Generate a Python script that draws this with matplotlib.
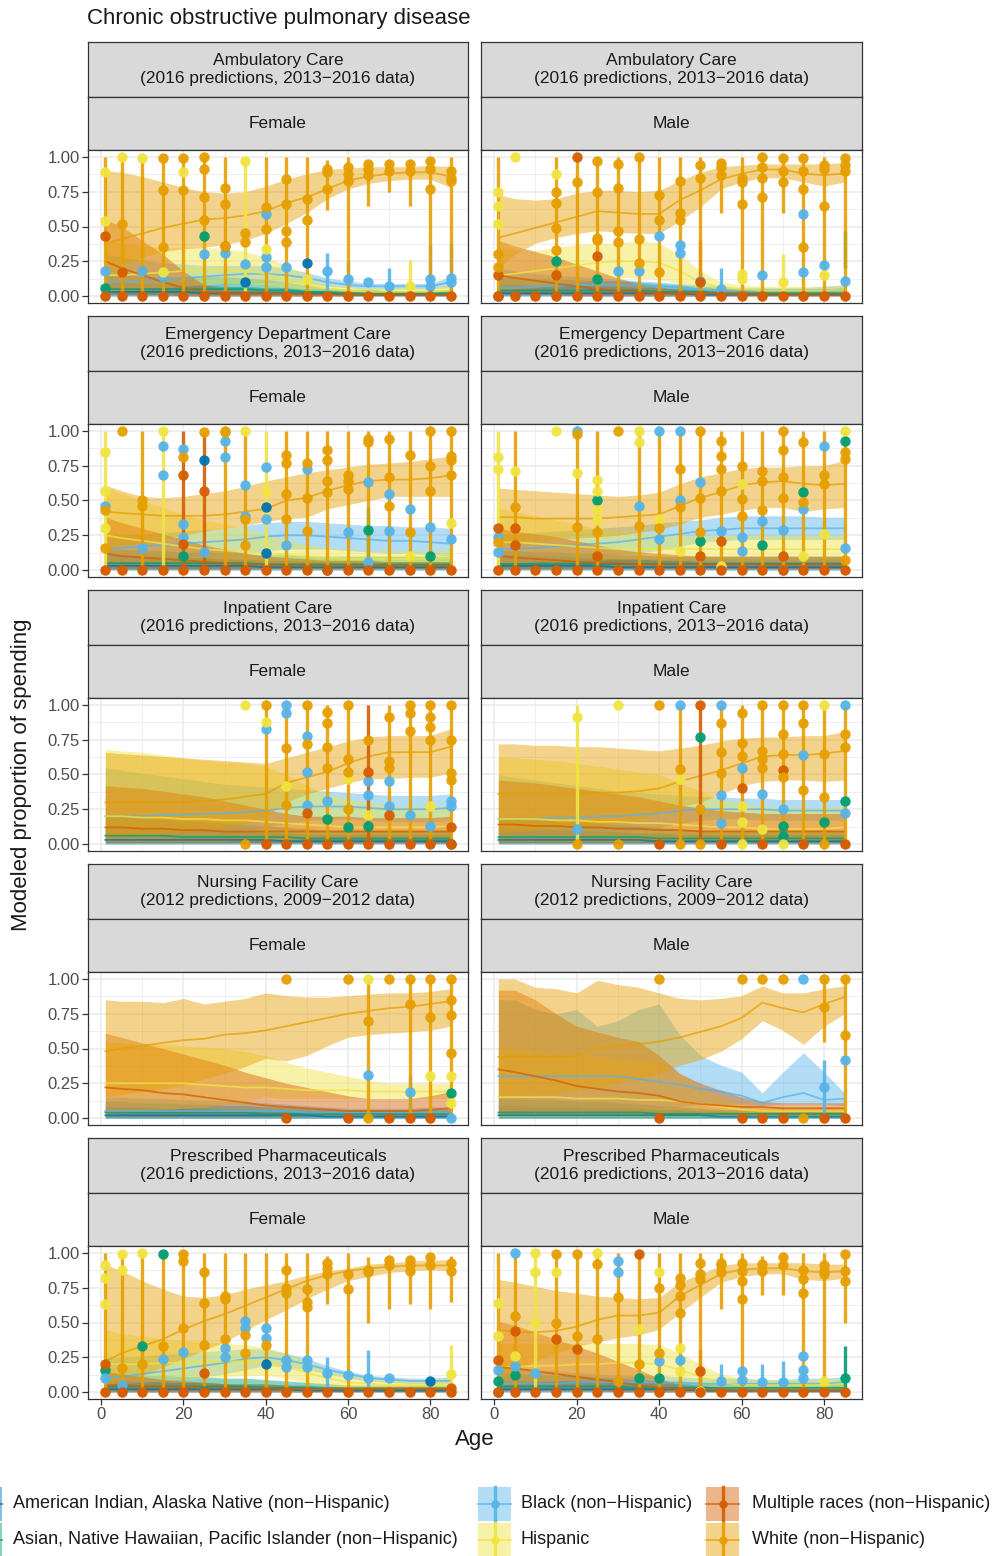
import matplotlib.pyplot as plt
from matplotlib.patches import Rectangle
from matplotlib.lines import Line2D

plt.rcParams['font.family'] = ['Liberation Sans', 'DejaVu Sans']

W, H = 1001, 1556
AGES = [1, 5, 10, 15, 20, 25, 30, 35, 40, 45, 50, 55, 60, 65, 70, 75, 80, 85]

GROUPS = ["American Indian, Alaska Native (non\u2212Hispanic)",
          "Asian, Native Hawaiian, Pacific Islander (non\u2212Hispanic)",
          "Black (non\u2212Hispanic)", "Hispanic",
          "Multiple races (non\u2212Hispanic)", "White (non\u2212Hispanic)"]
COLORS = ["#0072B2", "#009E73", "#56B4E9", "#F0E442", "#D55E00", "#E69F00"]
AI, AS, BL, HS, MR, WT = range(6)

CARE = ["Ambulatory Care\n(2016 predictions, 2013\u22122016 data)",
        "Emergency Department Care\n(2016 predictions, 2013\u22122016 data)",
        "Inpatient Care\n(2016 predictions, 2013\u22122016 data)",
        "Nursing Facility Care\n(2012 predictions, 2009\u22122012 data)",
        "Prescribed Pharmaceuticals\n(2016 predictions, 2013\u22122016 data)"]
SEX = ["Female", "Male"]

# modelled proportions: group -> (mean, lower, upper) by age
amb_f = {
    WT: ([.38, .41, .45, .49, .52, .55, .56, .58, .61, .67, .71, .77, .83, .86, .88, .89, .89, .86],
         [.15, .22, .28, .32, .34, .35, .37, .40, .45, .52, .60, .70, .77, .81, .83, .84, .84, .78],
         [.90, .89, .86, .82, .78, .75, .74, .75, .79, .84, .88, .91, .92, .93, .93, .93, .94, .93]),
    MR: ([.25, .20, .15, .10, .06, .03, .02, .02, .02, .02, .01, .01, .01, .01, .01, .01, .01, .01],
         [.02, .01, .01, .01, 0, 0, 0, 0, 0, 0, 0, 0, 0, 0, 0, 0, 0, 0],
         [.55, .50, .40, .30, .18, .08, .05, .04, .04, .03, .03, .03, .03, .03, .03, .03, .03, .03]),
    HS: ([.15, .15, .16, .17, .18, .19, .19, .18, .16, .12, .08, .05, .04, .03, .03, .03, .03, .04],
         [.03, .04, .05, .06, .07, .08, .09, .09, .08, .06, .04, .03, .02, .02, .02, .02, .02, .02],
         [.40, .38, .36, .35, .35, .35, .34, .32, .28, .22, .15, .09, .07, .06, .06, .06, .06, .08]),
    BL: ([.10, .10, .11, .12, .13, .14, .15, .16, .16, .15, .13, .10, .08, .07, .07, .07, .07, .10],
         [.02, .03, .04, .05, .06, .07, .08, .09, .10, .10, .09, .07, .06, .05, .05, .05, .05, .06],
         [.30, .28, .26, .24, .23, .22, .22, .22, .22, .20, .17, .13, .11, .09, .09, .09, .09, .14]),
    AS: ([.05, .05, .05, .05, .05, .05, .05, .05, .04, .04, .03, .03, .02, .02, .02, .02, .02, .02],
         [.01, .01, .01, .01, .01, .01, .01, .01, .01, .01, .01, .01, .01, .01, .01, .01, .01, .01],
         [.15, .15, .14, .14, .14, .14, .14, .13, .12, .10, .08, .06, .05, .05, .04, .04, .04, .05]),
    AI: ([.03, .03, .03, .03, .03, .02, .02, .02, .02, .02, .02, .02, .01, .01, .01, .01, .01, .01],
         [0, 0, 0, 0, 0, 0, 0, 0, 0, 0, 0, 0, 0, 0, 0, 0, 0, 0],
         [.10, .10, .09, .09, .08, .08, .07, .07, .06, .06, .05, .05, .04, .04, .04, .04, .04, .04]),
}
amb_m = {
    WT: ([.42, .45, .49, .53, .57, .61, .60, .59, .59, .69, .76, .84, .88, .91, .91, .88, .87, .88],
         [.20, .30, .38, .42, .45, .47, .46, .45, .45, .54, .64, .77, .82, .85, .85, .82, .79, .82],
         [.73, .70, .69, .70, .74, .76, .76, .75, .76, .83, .89, .93, .94, .95, .95, .95, .95, .96]),
    MR: ([.15, .13, .11, .09, .07, .05, .04, .03, .02, .02, .02, .02, .01, .01, .01, .01, .01, .01],
         [.01, .01, .01, .01, 0, 0, 0, 0, 0, 0, 0, 0, 0, 0, 0, 0, 0, 0],
         [.40, .36, .32, .28, .23, .18, .13, .09, .06, .05, .04, .04, .04, .03, .03, .03, .03, .03]),
    HS: ([.15, .16, .18, .20, .22, .24, .25, .25, .24, .18, .10, .06, .05, .04, .04, .04, .04, .05],
         [.04, .05, .06, .08, .10, .12, .13, .13, .12, .09, .05, .03, .02, .02, .02, .02, .02, .02],
         [.35, .33, .33, .35, .37, .38, .38, .40, .38, .30, .18, .10, .08, .07, .07, .07, .07, .08]),
    BL: ([.06, .06, .07, .07, .08, .08, .08, .08, .07, .06, .05, .04, .04, .04, .04, .04, .04, .05],
         [.01, .01, .02, .02, .03, .03, .03, .03, .03, .03, .03, .02, .02, .02, .02, .02, .02, .02],
         [.20, .18, .16, .15, .14, .13, .12, .11, .10, .09, .08, .07, .06, .06, .06, .06, .07, .08]),
    AS: ([.04, .04, .04, .04, .04, .04, .04, .04, .03, .03, .03, .02, .02, .02, .02, .02, .02, .02],
         [.01, .01, .01, .01, .01, .01, .01, .01, .01, .01, .01, .01, .01, .01, .01, .01, .01, .01],
         [.14, .13, .13, .12, .12, .11, .11, .10, .09, .08, .07, .06, .05, .05, .05, .05, .05, .06]),
    AI: ([.02, .02, .02, .02, .02, .02, .02, .02, .02, .02, .01, .01, .01, .01, .01, .01, .01, .01],
         [0, 0, 0, 0, 0, 0, 0, 0, 0, 0, 0, 0, 0, 0, 0, 0, 0, 0],
         [.09, .09, .08, .08, .08, .07, .07, .06, .06, .05, .05, .04, .04, .04, .04, .04, .04, .04]),
}
ed_f = {
    WT: ([.42, .41, .40, .39, .39, .39, .40, .42, .44, .50, .52, .57, .61, .64, .65, .65, .66, .68],
         [.15, .18, .20, .22, .25, .28, .30, .32, .35, .37, .38, .44, .47, .50, .53, .53, .53, .53],
         [.61, .57, .53, .52, .53, .55, .57, .60, .64, .67, .70, .72, .74, .76, .77, .78, .80, .82]),
    MR: ([.12, .10, .09, .08, .07, .06, .05, .04, .04, .03, .03, .03, .03, .03, .03, .03, .03, .03],
         [.01, .01, .01, .01, .01, .01, .01, .01, .01, .01, .01, .01, .01, .01, .01, .01, .01, .01],
         [.38, .34, .30, .26, .22, .18, .15, .12, .10, .09, .08, .07, .07, .07, .06, .06, .06, .06]),
    HS: ([.25, .23, .21, .19, .17, .15, .14, .13, .12, .11, .10, .09, .08, .08, .08, .08, .08, .09],
         [.05, .05, .05, .05, .05, .05, .05, .05, .05, .05, .04, .04, .04, .04, .04, .04, .04, .04],
         [.60, .55, .50, .45, .40, .36, .33, .30, .26, .22, .18, .16, .15, .14, .14, .14, .14, .15]),
    BL: ([.15, .16, .17, .18, .19, .20, .21, .22, .24, .25, .25, .24, .23, .22, .21, .21, .20, .19],
         [.05, .06, .07, .08, .09, .10, .11, .12, .14, .15, .15, .15, .14, .13, .12, .12, .11, .10],
         [.25, .25, .26, .27, .28, .29, .30, .32, .34, .35, .35, .34, .33, .32, .32, .31, .31, .30]),
    AS: ([.05, .05, .05, .05, .05, .05, .05, .05, .04, .04, .04, .04, .04, .04, .04, .04, .04, .04],
         [.01, .01, .01, .01, .01, .01, .01, .01, .01, .01, .01, .01, .01, .01, .01, .01, .01, .01],
         [.15, .15, .14, .14, .13, .13, .12, .12, .11, .11, .10, .10, .10, .10, .10, .10, .10, .10]),
    AI: ([.03, .03, .03, .03, .03, .03, .03, .03, .02, .02, .02, .02, .02, .02, .02, .02, .02, .02],
         [0, 0, 0, 0, 0, 0, 0, 0, 0, 0, 0, 0, 0, 0, 0, 0, 0, 0],
         [.12, .11, .10, .10, .09, .09, .08, .08, .07, .07, .06, .06, .06, .06, .06, .06, .06, .06]),
}
ed_m = {
    WT: ([.38, .38, .37, .37, .37, .37, .38, .39, .40, .46, .52, .56, .61, .63, .64, .62, .61, .62],
         [.18, .20, .21, .22, .23, .24, .25, .27, .29, .33, .38, .40, .43, .45, .45, .42, .44, .45],
         [.59, .58, .57, .56, .55, .54, .53, .54, .56, .62, .67, .70, .73, .74, .74, .75, .75, .79]),
    MR: ([.10, .09, .08, .07, .06, .05, .05, .04, .04, .04, .04, .04, .04, .04, .04, .04, .04, .04],
         [.01, .01, .01, .01, .01, .01, .01, .01, .01, .01, .01, .01, .01, .01, .01, .01, .01, .01],
         [.30, .28, .26, .24, .21, .18, .15, .13, .12, .11, .10, .10, .10, .10, .10, .10, .10, .10]),
    HS: ([.20, .20, .19, .18, .17, .16, .15, .15, .15, .15, .15, .15, .15, .15, .15, .15, .15, .15],
         [.05, .05, .06, .06, .07, .07, .08, .08, .08, .08, .08, .08, .08, .08, .08, .08, .08, .08],
         [.45, .42, .39, .36, .33, .30, .28, .27, .26, .25, .25, .25, .25, .25, .25, .25, .25, .25]),
    BL: ([.15, .15, .16, .17, .18, .19, .20, .22, .24, .26, .28, .29, .30, .30, .30, .30, .30, .30],
         [.05, .06, .07, .08, .09, .10, .11, .12, .14, .17, .20, .21, .22, .22, .22, .22, .22, .22],
         [.25, .26, .27, .28, .29, .30, .31, .32, .34, .35, .36, .38, .39, .39, .39, .39, .38, .38]),
    AS: ([.04, .04, .04, .04, .04, .04, .04, .04, .04, .04, .04, .04, .04, .04, .04, .04, .04, .04],
         [.01, .01, .01, .01, .01, .01, .01, .01, .01, .01, .01, .01, .01, .01, .01, .01, .01, .01],
         [.14, .14, .13, .13, .12, .12, .11, .11, .10, .10, .10, .10, .10, .10, .10, .10, .10, .10]),
    AI: ([.03, .03, .03, .03, .03, .03, .02, .02, .02, .02, .02, .02, .02, .02, .02, .02, .02, .02],
         [0, 0, 0, 0, 0, 0, 0, 0, 0, 0, 0, 0, 0, 0, 0, 0, 0, 0],
         [.11, .11, .10, .10, .09, .09, .08, .08, .07, .07, .06, .06, .06, .06, .06, .06, .06, .06]),
}
inp_f = {
    WT: ([.30, .30, .30, .30, .30, .31, .32, .34, .36, .44, .48, .52, .58, .63, .66, .66, .66, .70],
         [.05, .06, .07, .08, .09, .10, .12, .15, .20, .30, .36, .40, .44, .47, .47, .48, .48, .51],
         [.66, .65, .64, .63, .62, .61, .60, .59, .58, .62, .66, .70, .74, .77, .78, .78, .78, .83]),
    MR: ([.12, .12, .11, .11, .10, .10, .09, .09, .09, .09, .09, .09, .09, .09, .09, .09, .09, .09],
         [.01, .01, .01, .01, .01, .01, .01, .01, .01, .01, .01, .01, .01, .01, .01, .01, .01, .01],
         [.42, .41, .40, .38, .36, .34, .31, .28, .25, .22, .20, .20, .20, .19, .19, .19, .19, .20]),
    HS: ([.20, .20, .19, .19, .18, .18, .17, .17, .16, .15, .14, .13, .12, .12, .12, .12, .12, .13],
         [.02, .02, .02, .02, .02, .02, .02, .03, .03, .03, .04, .04, .04, .04, .04, .04, .04, .04],
         [.68, .67, .66, .64, .62, .60, .59, .58, .56, .50, .42, .36, .32, .30, .28, .27, .27, .28]),
    BL: ([.20, .20, .20, .21, .21, .22, .22, .23, .24, .26, .27, .27, .27, .26, .25, .25, .25, .26],
         [.02, .03, .04, .05, .06, .07, .08, .10, .12, .15, .17, .18, .18, .17, .16, .16, .16, .17],
         [.55, .53, .51, .49, .47, .45, .43, .42, .41, .40, .39, .38, .37, .36, .35, .35, .35, .36]),
    AS: ([.06, .06, .06, .06, .05, .05, .05, .05, .05, .05, .04, .04, .04, .04, .04, .04, .04, .04],
         [.01, .01, .01, .01, .01, .01, .01, .01, .01, .01, .01, .01, .01, .01, .01, .01, .01, .01],
         [.20, .20, .19, .18, .17, .16, .15, .14, .13, .12, .11, .10, .10, .10, .10, .10, .10, .10]),
    AI: ([.03, .03, .03, .03, .03, .03, .03, .03, .03, .02, .02, .02, .02, .02, .02, .02, .02, .02],
         [0, 0, 0, 0, 0, 0, 0, 0, 0, 0, 0, 0, 0, 0, 0, 0, 0, 0],
         [.12, .12, .11, .11, .10, .10, .09, .09, .08, .08, .07, .07, .07, .07, .07, .07, .07, .07]),
}
inp_m = {
    WT: ([.36, .36, .36, .36, .36, .37, .37, .38, .40, .45, .49, .53, .58, .63, .64, .64, .65, .67],
         [.08, .09, .10, .11, .12, .13, .15, .18, .22, .27, .30, .36, .42, .45, .46, .46, .45, .46],
         [.72, .72, .71, .71, .70, .70, .69, .68, .67, .69, .71, .74, .76, .77, .77, .78, .78, .81]),
    MR: ([.14, .14, .13, .13, .12, .12, .11, .11, .10, .10, .09, .09, .09, .09, .09, .09, .09, .09],
         [.01, .01, .01, .01, .01, .01, .01, .01, .01, .01, .01, .01, .01, .01, .01, .01, .01, .01],
         [.46, .45, .44, .42, .40, .38, .36, .34, .31, .28, .26, .24, .23, .22, .22, .22, .22, .22]),
    HS: ([.18, .18, .18, .17, .17, .16, .16, .15, .15, .14, .13, .12, .12, .11, .11, .11, .11, .12],
         [.02, .02, .02, .02, .02, .02, .02, .02, .03, .03, .03, .03, .03, .03, .03, .03, .03, .03],
         [.63, .62, .61, .60, .58, .56, .54, .52, .50, .44, .38, .32, .29, .27, .26, .26, .26, .27]),
    BL: ([.18, .18, .18, .19, .19, .20, .20, .21, .22, .24, .25, .25, .25, .25, .24, .24, .24, .24],
         [.02, .03, .04, .05, .06, .07, .08, .10, .12, .15, .17, .18, .18, .17, .17, .17, .17, .17],
         [.50, .48, .46, .44, .42, .40, .38, .37, .36, .35, .34, .34, .33, .33, .32, .32, .32, .32]),
    AS: ([.05, .05, .05, .05, .05, .05, .05, .05, .04, .04, .04, .04, .04, .04, .04, .04, .04, .04],
         [.01, .01, .01, .01, .01, .01, .01, .01, .01, .01, .01, .01, .01, .01, .01, .01, .01, .01],
         [.18, .18, .17, .17, .16, .15, .14, .13, .12, .11, .10, .10, .10, .10, .10, .10, .10, .10]),
    AI: ([.03, .03, .03, .03, .03, .03, .03, .03, .02, .02, .02, .02, .02, .02, .02, .02, .02, .02],
         [0, 0, 0, 0, 0, 0, 0, 0, 0, 0, 0, 0, 0, 0, 0, 0, 0, 0],
         [.12, .11, .11, .10, .10, .09, .09, .08, .08, .07, .07, .07, .07, .07, .07, .07, .07, .07]),
}
nf_f = {
    WT: ([.48, .50, .52, .54, .56, .57, .60, .61, .63, .66, .69, .72, .75, .77, .79, .80, .82, .84],
         [.15, .17, .19, .21, .24, .28, .32, .37, .43, .41, .45, .52, .58, .60, .61, .62, .63, .66],
         [.85, .84, .84, .83, .86, .82, .84, .86, .90, .88, .87, .87, .88, .89, .90, .90, .91, .93]),
    MR: ([.22, .21, .20, .18, .17, .15, .13, .11, .09, .08, .07, .06, .05, .05, .05, .05, .06, .07],
         [.01, .01, .01, .01, .01, .01, .01, .01, .01, .01, .01, .01, .01, .01, .01, .01, .01, .01],
         [.61, .58, .54, .50, .46, .42, .38, .33, .29, .25, .22, .19, .16, .14, .14, .14, .16, .19]),
    HS: ([.25, .25, .25, .25, .25, .24, .23, .22, .22, .21, .20, .20, .20, .19, .19, .19, .19, .19],
         [.03, .04, .05, .06, .07, .08, .10, .12, .15, .14, .14, .14, .14, .14, .14, .14, .14, .14],
         [.55, .54, .53, .53, .52, .51, .50, .48, .45, .40, .36, .33, .30, .27, .25, .25, .25, .25]),
    BL: ([.05, .05, .05, .05, .05, .05, .05, .05, .05, .05, .04, .04, .04, .04, .04, .04, .04, .04],
         [0, 0, 0, 0, 0, 0, 0, 0, 0, 0, 0, 0, 0, 0, 0, 0, 0, 0],
         [.15, .15, .14, .14, .13, .13, .12, .12, .11, .10, .09, .08, .07, .07, .07, .07, .08, .08]),
    AS: ([.04, .04, .04, .04, .04, .04, .04, .04, .03, .03, .03, .03, .03, .03, .03, .03, .03, .03],
         [0, 0, 0, 0, 0, 0, 0, 0, 0, 0, 0, 0, 0, 0, 0, 0, 0, 0],
         [.12, .12, .11, .11, .10, .10, .09, .09, .08, .08, .07, .07, .06, .06, .06, .06, .06, .06]),
    AI: ([.02, .02, .02, .02, .02, .02, .02, .02, .02, .02, .02, .01, .01, .01, .01, .01, .01, .01],
         [0, 0, 0, 0, 0, 0, 0, 0, 0, 0, 0, 0, 0, 0, 0, 0, 0, 0],
         [.08, .08, .08, .07, .07, .07, .06, .06, .06, .05, .05, .05, .04, .04, .04, .04, .04, .04]),
}
nf_m = {
    WT: ([.44, .44, .44, .44, .45, .50, .52, .53, .55, .58, .62, .66, .72, .83, .79, .76, .82, .87],
         [.15, .16, .17, .18, .20, .22, .25, .28, .32, .38, .42, .48, .57, .70, .63, .53, .66, .75],
         [1.0, 1.0, .94, .93, .90, .99, .96, .94, .90, .86, .85, .86, .88, .95, .90, .90, .93, .95]),
    MR: ([.35, .33, .30, .27, .23, .21, .19, .18, .16, .12, .10, .09, .08, .08, .07, .07, .07, .07],
         [.02, .02, .02, .02, .02, .02, .02, .02, .02, .02, .02, .02, .02, .02, .02, .02, .02, .02],
         [.92, .92, .85, .75, .66, .62, .58, .55, .45, .32, .25, .20, .15, .12, .11, .11, .11, .11]),
    HS: ([.15, .15, .15, .15, .14, .14, .14, .13, .13, .12, .10, .08, .06, .05, .05, .05, .05, .05],
         [.01, .01, .01, .01, .01, .01, .01, .01, .01, .01, .01, .01, .01, .01, .01, .01, .01, .01],
         [.50, .50, .48, .46, .45, .44, .43, .42, .40, .32, .22, .15, .10, .08, .08, .08, .08, .08]),
    BL: ([.30, .30, .30, .30, .30, .30, .30, .28, .26, .24, .21, .19, .16, .11, .15, .18, .13, .14],
         [.02, .02, .03, .03, .04, .04, .05, .06, .07, .08, .10, .10, .10, .09, .10, .10, .10, .09],
         [.85, .85, .78, .75, .78, .66, .70, .78, .82, .60, .45, .38, .33, .18, .33, .47, .33, .18]),
    AS: ([.04, .04, .04, .04, .04, .04, .04, .04, .03, .03, .03, .03, .03, .03, .03, .03, .03, .03],
         [0, 0, 0, 0, 0, 0, 0, 0, 0, 0, 0, 0, 0, 0, 0, 0, 0, 0],
         [.14, .14, .13, .13, .12, .12, .11, .10, .09, .08, .07, .06, .06, .06, .06, .06, .06, .06]),
    AI: ([.02, .02, .02, .02, .02, .02, .02, .02, .02, .02, .02, .01, .01, .01, .01, .01, .01, .01],
         [0, 0, 0, 0, 0, 0, 0, 0, 0, 0, 0, 0, 0, 0, 0, 0, 0, 0],
         [.09, .09, .08, .08, .08, .07, .07, .07, .06, .06, .05, .05, .04, .04, .04, .04, .04, .04]),
}
pp_f = {
    WT: ([.22, .28, .33, .38, .45, .51, .56, .62, .68, .74, .80, .84, .87, .89, .90, .91, .91, .91],
         [.05, .08, .12, .18, .24, .30, .36, .44, .52, .59, .67, .74, .80, .83, .86, .87, .88, .87],
         [.92, .87, .80, .74, .69, .68, .70, .74, .77, .80, .84, .87, .89, .92, .93, .94, .95, .95]),
    MR: ([.05, .05, .04, .04, .04, .03, .03, .03, .03, .02, .02, .02, .02, .02, .02, .02, .02, .02],
         [0, 0, 0, 0, 0, 0, 0, 0, 0, 0, 0, 0, 0, 0, 0, 0, 0, 0],
         [.15, .13, .11, .09, .08, .07, .06, .05, .05, .05, .04, .04, .04, .04, .04, .04, .04, .04]),
    HS: ([.20, .20, .20, .21, .21, .22, .22, .22, .21, .18, .14, .10, .07, .06, .05, .05, .05, .06],
         [.05, .06, .07, .08, .09, .10, .11, .12, .12, .10, .07, .05, .03, .03, .03, .03, .03, .03],
         [.45, .42, .40, .38, .37, .36, .35, .34, .32, .28, .22, .16, .12, .10, .09, .09, .09, .10]),
    BL: ([.10, .11, .13, .15, .17, .19, .21, .24, .25, .23, .20, .16, .13, .10, .09, .08, .08, .08],
         [.03, .04, .05, .07, .09, .11, .13, .16, .19, .18, .16, .13, .10, .08, .07, .06, .06, .06],
         [.25, .25, .26, .27, .28, .29, .30, .31, .31, .28, .24, .19, .15, .12, .11, .10, .10, .11]),
    AS: ([.04, .04, .04, .04, .04, .04, .04, .04, .03, .03, .03, .02, .02, .02, .02, .02, .02, .02],
         [.01, .01, .01, .01, .01, .01, .01, .01, .01, .01, .01, .01, .01, .01, .01, .01, .01, .01],
         [.13, .13, .12, .12, .11, .11, .10, .10, .09, .08, .07, .06, .05, .05, .05, .05, .05, .05]),
    AI: ([.02, .02, .02, .02, .02, .02, .02, .02, .02, .02, .01, .01, .01, .01, .01, .01, .01, .01],
         [0, 0, 0, 0, 0, 0, 0, 0, 0, 0, 0, 0, 0, 0, 0, 0, 0, 0],
         [.08, .08, .08, .07, .07, .07, .06, .06, .06, .05, .05, .04, .04, .04, .04, .04, .04, .04]),
}
pp_m = {
    WT: ([.45, .43, .43, .44, .47, .52, .55, .55, .57, .69, .77, .85, .88, .89, .89, .87, .86, .87],
         [.10, .15, .22, .28, .33, .36, .39, .41, .45, .57, .68, .79, .83, .85, .85, .81, .80, .82],
         [.81, .79, .76, .73, .71, .69, .68, .67, .68, .79, .85, .91, .93, .93, .93, .93, .92, .92]),
    MR: ([.18, .17, .15, .13, .11, .09, .07, .05, .03, .02, .02, .01, .01, .01, .01, .01, .01, .01],
         [.01, .01, .01, .01, .01, .01, 0, 0, 0, 0, 0, 0, 0, 0, 0, 0, 0, 0],
         [.51, .48, .43, .38, .33, .28, .22, .16, .10, .05, .04, .03, .03, .03, .03, .03, .03, .03]),
    HS: ([.18, .18, .19, .19, .20, .20, .21, .21, .20, .16, .11, .07, .05, .05, .05, .05, .05, .06],
         [.05, .06, .07, .08, .09, .10, .10, .10, .09, .07, .05, .03, .02, .02, .02, .02, .02, .02],
         [.35, .35, .35, .35, .35, .35, .35, .35, .34, .28, .20, .13, .10, .09, .09, .09, .09, .10]),
    BL: ([.06, .06, .06, .06, .07, .07, .07, .07, .07, .07, .06, .06, .06, .06, .06, .06, .06, .07],
         [.02, .02, .02, .02, .02, .02, .02, .02, .02, .02, .02, .02, .03, .03, .03, .03, .03, .03],
         [.20, .18, .16, .15, .14, .13, .12, .12, .12, .11, .10, .10, .10, .09, .09, .10, .10, .11]),
    AS: ([.04, .04, .04, .04, .04, .04, .04, .03, .03, .03, .03, .03, .03, .03, .03, .03, .03, .03],
         [.01, .01, .01, .01, .01, .01, .01, .01, .01, .01, .01, .01, .01, .01, .01, .01, .01, .01],
         [.14, .13, .13, .12, .12, .11, .10, .09, .08, .07, .07, .06, .06, .06, .06, .06, .06, .07]),
    AI: ([.02, .02, .02, .02, .02, .02, .02, .02, .02, .02, .01, .01, .01, .01, .01, .01, .01, .01],
         [0, 0, 0, 0, 0, 0, 0, 0, 0, 0, 0, 0, 0, 0, 0, 0, 0, 0],
         [.09, .09, .08, .08, .08, .07, .07, .07, .06, .06, .05, .05, .04, .04, .04, .04, .04, .04]),
}

# observed proportions: (age, group, values, bar low, bar high)
amb_f_obs = [
    (1, WT, [], 0, 1), (1, HS, [.89, .54], None, None), (1, MR, [.43], None, None),
    (1, BL, [.18], None, None), (1, AS, [.06], None, None),
    (5, WT, [.52], 0, 1), (5, HS, [1.0], None, None), (5, MR, [.17], None, None),
    (10, WT, [], 0, 1), (10, HS, [.99], None, None), (10, BL, [.18], None, None),
    (15, WT, [.99, .76, .35], 0, 1), (15, HS, [.17], None, None), (15, BL, [.14], None, None),
    (20, WT, [.99, .76], 0, 1), (20, HS, [.89], None, None),
    (25, WT, [1.0, .91, .71, .55], 0, 1), (25, AS, [.43], None, None), (25, BL, [.30], None, None),
    (30, WT, [.78, .66, .36], 0, 1), (30, MR, [.36], None, None), (30, BL, [.31], None, None),
    (35, HS, [.97], 0, 1), (35, WT, [.45, .39], None, None), (35, BL, [.23], None, None),
    (35, AI, [.10], None, None),
    (40, WT, [.64, .48], 0, 1), (40, BL, [.59, .28, .21], None, None), (40, HS, [.34], None, None),
    (45, WT, [.84, .66, .47, .39], 0, 1), (45, BL, [.21], None, None),
    (50, WT, [.70, .55], 0, 1), (50, AI, [.24], None, None), (50, HS, [.12], None, None),
    (55, WT, [.91, .89, .77], .62, .98), (55, BL, [.18], .03, .31),
    (60, WT, [.93, .88, .83], 0, 1), (60, BL, [.12], .02, .25),
    (65, WT, [.95, .91, .87], .65, .98), (65, BL, [.10], None, None),
    (70, WT, [.95, .90], .75, .98), (70, BL, [.07], 0, .2),
    (75, WT, [.95, .90], .65, .98), (75, HS, [.07], 0, .26),
    (80, WT, [.97, .91, .77], 0, 1), (80, BL, [.12, .07], 0, .37),
    (85, WT, [.90, .85, .83], 0, 1), (85, BL, [.13, .10], 0, .38),
]
amb_m_obs = [
    (1, WT, [.30, .21], 0, 1), (1, HS, [.75, .65, .52], None, None), (1, MR, [.15], None, None),
    (1, AI, [0], None, None),
    (5, HS, [1.0], None, None),
    (15, WT, [.75, .67, .49, .33], 0, 1), (15, HS, [.88], None, None), (15, AS, [.25], None, None),
    (15, MR, [.15], None, None),
    (20, MR, [1.0], None, None), (20, WT, [.82], 0, 1),
    (25, WT, [.97, .75, .42, .40], 0, 1), (25, MR, [.29], None, None), (25, AS, [.12], None, None),
    (30, WT, [.95, .78, .47, .39], 0, 1), (30, BL, [.18], None, None),
    (35, WT, [1.0, .41, .24], 0, 1), (35, BL, [.18], None, None),
    (40, WT, [.73, .55, .17], 0, 1), (40, BL, [.43], None, None),
    (45, WT, [.83, .60, .55], 0, 1), (45, BL, [.37, .31], None, None),
    (50, WT, [.94, .85], 0, 1), (50, MR, [.10], 0, .4), (50, BL, [.11], None, None),
    (55, WT, [.96, .93, .87], .6, .98), (55, BL, [.05], 0, .2),
    (60, WT, [.85, .82, .66], 0, 1), (60, HS, [.16, .12], None, None),
    (65, WT, [1.0, .93, .85, .71], 0, 1), (65, BL, [.15], None, None),
    (70, WT, [.99, .90, .82], .6, 1), (70, HS, [.10], 0, .3),
    (75, WT, [.99, .90, .77, .35], 0, 1), (75, BL, [.59, .17], None, None),
    (80, WT, [.94, .91, .65], 0, 1), (80, BL, [.22], None, None), (80, HS, [.15], None, None),
    (85, WT, [.99, .94, .90], 0, 1), (85, AS, [], .2, .47), (85, BL, [.11], None, None),
]
ed_f_obs = [
    (1, HS, [.85, .57, .30], 0, 1), (1, BL, [.46], None, None), (1, WT, [.43, .16], None, None),
    (5, WT, [1.0], None, None),
    (10, WT, [.50, .46], 0, 1), (10, BL, [.16], None, None),
    (15, HS, [1.0], 0, 1), (15, BL, [.89, .68], None, None),
    (20, MR, [.68, .19], 0, 1), (20, BL, [.87, .33, .24], None, None), (20, WT, [.81], None, None),
    (20, AS, [.10], None, None),
    (25, MR, [.57], 0, 1), (25, WT, [.99], None, None), (25, AI, [.79], None, None),
    (25, BL, [.13], None, None),
    (30, WT, [1.0, .99], 0, 1), (30, BL, [.93, .81], None, None),
    (35, WT, [.37, .18], 0, 1), (35, HS, [1.0], None, None), (35, BL, [.61, .39], None, None),
    (40, HS, [.57], 0, 1), (40, BL, [.74, .37], None, None), (40, AI, [.45, .12], None, None),
    (45, WT, [.83, .77, .55, .37], 0, 1), (45, BL, [.18], None, None),
    (50, WT, [.77, .52, .28], 0, 1), (50, BL, [.73], None, None),
    (55, WT, [.86, .79, .64, .56], 0, 1), (55, AS, [0], None, None),
    (60, WT, [.68, .64, .58], 0, 1), (60, BL, [.27], None, None),
    (65, WT, [.94, .92], 0, 1), (65, BL, [.63, .06], None, None), (65, AS, [.29], .05, .45),
    (70, WT, [.94, .67, .46], 0, 1), (70, BL, [.55, .28], None, None),
    (75, WT, [.83, .27], 0, 1), (75, BL, [.44], None, None), (75, HS, [.10], None, None),
    (80, WT, [1.0, .75, .57], 0, 1), (80, BL, [.31], None, None), (80, AS, [.10], None, None),
    (85, WT, [1.0, .82, .79, .68], 0, 1), (85, HS, [.34], None, None), (85, BL, [.22], None, None),
]
ed_m_obs = [
    (1, HS, [.81, .73], 0, 1), (1, MR, [.30], None, None), (1, BL, [.24, .13], None, None),
    (1, WT, [.20], None, None),
    (5, WT, [.45], 0, 1), (5, HS, [.71], None, None), (5, MR, [.30, .18], None, None),
    (15, HS, [1.0], None, None),
    (20, WT, [.98, .31], 0, 1), (20, BL, [1.0], None, None), (20, HS, [.70], None, None),
    (25, WT, [.27], 0, 1), (25, HS, [.65, .57, .43, .36], None, None), (25, AS, [.50], None, None),
    (25, MR, [.10], None, None),
    (30, WT, [1.0], None, None),
    (35, WT, [.32], 0, 1), (35, HS, [1.0, .92], None, None), (35, BL, [.46], None, None),
    (40, WT, [.30], 0, 1), (40, BL, [1.0, .22], None, None), (40, HS, [.37], None, None),
    (45, WT, [.73, .45], 0, 1), (45, BL, [1.0, .50], None, None), (45, HS, [.14], None, None),
    (50, WT, [1.0, .52, .27], 0, 1), (50, BL, [.63], None, None), (50, AS, [.21], None, None),
    (50, MR, [.10], None, None),
    (55, WT, [.93, .82, .73, .57], 0, 1), (55, BL, [.28], None, None), (55, MR, [.21], None, None),
    (55, HS, [.03], None, None),
    (60, WT, [.75, .51, .39], 0, 1), (60, HS, [.62], None, None), (60, BL, [.24, .14], None, None),
    (65, WT, [.71, .64, .43], 0, 1), (65, BL, [.35], None, None), (65, AS, [.18], None, None),
    (70, WT, [1.0, .86, .67, .52], 0, 1), (70, BL, [.29, 0], None, None), (70, MR, [.10], None, None),
    (75, WT, [.92, .49], 0, 1), (75, AS, [.56], None, None), (75, BL, [.44], None, None),
    (75, HS, [.10], None, None),
    (80, WT, [.68, .62], 0, 1), (80, BL, [.89], None, None), (80, HS, [.26], None, None),
    (85, WT, [.85, .80, .07], 0, 1), (85, HS, [1.0], None, None), (85, AS, [.93], None, None),
    (85, BL, [.16], None, None),
]
inp_f_obs = [
    (35, HS, [1.0], None, None), (35, WT, [0], None, None),
    (40, WT, [1.0], 0, 1), (40, HS, [.88], None, None), (40, BL, [.83], None, None),
    (45, WT, [.69, .28], 0, 1), (45, BL, [1.0, .94], None, None), (45, HS, [.42], None, None),
    (50, WT, [1.0, .72], 0, 1), (50, BL, [.78, .52, .28], None, None), (50, MR, [.22], None, None),
    (55, WT, [.95, .87, .70, .55], 0, 1), (55, BL, [.31], None, None), (55, AS, [.18], None, None),
    (60, WT, [1.0, .61, .52, .25], 0, 1), (60, HS, [.47], None, None), (60, AS, [.12], None, None),
    (65, MR, [.52], 0, 1), (65, WT, [.75], None, None), (65, BL, [.45, .35], None, None),
    (65, HS, [.21], None, None), (65, AS, [.13], None, None),
    (70, WT, [.91, .60, .55], 0, 1), (70, BL, [.45, .27], None, None), (70, MR, [.21], None, None),
    (75, WT, [1.0, .94, .81], 0, 1), (75, BL, [.21], None, None),
    (80, WT, [1.0, .91, .84, .75], 0, 1), (80, HS, [.27], None, None), (80, BL, [.13], None, None),
    (85, WT, [1.0, .75, .51, .46], 0, 1), (85, BL, [.31, .27], None, None), (85, MR, [.12], None, None),
    (85, AS, [0], None, None),
]
inp_m_obs = [
    (20, HS, [.91], 0, 1), (20, BL, [.11], 0, .25), (20, WT, [0], None, None),
    (30, HS, [1.0], None, None), (30, WT, [0], None, None),
    (40, WT, [1.0], None, None),
    (45, WT, [.54, 0], 0, 1), (45, BL, [1.0], None, None), (45, HS, [.47], None, None),
    (50, MR, [1.0], 0, 1), (50, AS, [.77], None, None), (50, WT, [.25, 0], None, None),
    (55, WT, [.87, .66, .51], 0, 1), (55, BL, [1.0, .35, .15], None, None),
    (60, WT, [.94, .73, .63], 0, 1), (60, BL, [.55], None, None), (60, MR, [.40], None, None),
    (60, HS, [.27, .16, 0], None, None),
    (65, WT, [1.0, .67, .61, .55], 0, 1), (65, BL, [.36], None, None), (65, HS, [.11], None, None),
    (70, WT, [1.0, .79, .65, .48], 0, 1), (70, MR, [.53], None, None), (70, BL, [.25], None, None),
    (70, AS, [.13, .06], None, None), (70, HS, [0], None, None),
    (75, WT, [1.0, .87, .39], 0, 1), (75, BL, [.64], None, None),
    (80, WT, [.65, .34, 0], 0, 1), (80, HS, [1.0], None, None), (80, AS, [.16], None, None),
    (85, WT, [.79, .70], 0, 1), (85, BL, [1.0, .22], None, None), (85, AS, [.31], None, None),
]
nf_f_obs = [
    (45, WT, [1.0], None, None), (60, WT, [1.0], None, None),
    (65, HS, [1.0], None, None), (65, WT, [.70, 0], 0, 1), (65, BL, [.31], None, None),
    (70, WT, [1.0], None, None),
    (75, WT, [1.0, .82], 0, 1), (75, BL, [.19], 0, .3),
    (80, WT, [1.0, .73], 0, 1), (80, HS, [.30], None, None),
    (85, WT, [1.0, .85, .74, .47], 0, 1), (85, HS, [.30, .11], None, None),
    (85, AS, [.18], None, None), (85, BL, [0], None, None),
]
nf_m_obs = [
    (40, WT, [1.0], None, None), (60, WT, [1.0], None, None), (65, WT, [1.0], None, None),
    (70, WT, [1.0], None, None), (75, BL, [1.0], None, None), (75, WT, [0], None, None),
    (80, WT, [1.0, .80], .55, 1), (80, BL, [.22], 0, .42),
    (85, WT, [1.0, .60], 0, 1), (85, BL, [.42], None, None),
]
pp_f_obs = [
    (1, WT, [], 0, 1), (1, HS, [.91, .82, .63], None, None), (1, MR, [.20], None, None),
    (1, AS, [.16], None, None), (1, BL, [.10], None, None),
    (5, WT, [.17], 0, 1), (5, HS, [.99, .88], None, None), (5, BL, [.05], None, None),
    (10, WT, [.20], 0, 1), (10, HS, [1.0], None, None), (10, AS, [.33], None, None),
    (15, WT, [.33], 0, 1), (15, AS, [.99], None, None), (15, BL, [.24], None, None),
    (20, WT, [.99, .94, .46], 0, 1), (20, BL, [.29], None, None),
    (25, WT, [.86, .64, .34], 0, 1), (25, MR, [.14], None, None), (25, AS, [.01], None, None),
    (30, WT, [.69, .67, .38], 0, 1), (30, BL, [.32, .25], None, None),
    (35, WT, [.41, .28], 0, 1), (35, BL, [.51, .46], None, None),
    (40, WT, [.34], 0, 1), (40, BL, [.46, .39], None, None), (40, AI, [.20], None, None),
    (45, WT, [.88, .75, .71], 0, 1), (45, BL, [.23, .18], None, None),
    (50, WT, [.74, .65, .61], 0, 1), (50, BL, [.23, .18], None, None),
    (55, WT, [.93, .89, .85], .63, .98), (55, BL, [.14], 0, .25),
    (60, WT, [.85, .74], 0, 1), (60, BL, [.12], None, None),
    (65, WT, [.88, .86], .5, .97), (65, BL, [.10], 0, .3),
    (70, WT, [.95, .91], .6, .98), (70, BL, [.10], None, None),
    (75, WT, [.95, .91, .87], .63, .98),
    (80, WT, [.97, .91], .6, .98), (80, AI, [.08], None, None),
    (85, WT, [.93, .87], .65, .98), (85, HS, [.13, 0], 0, .34), (85, MR, [.03], None, None),
]
pp_m_obs = [
    (1, WT, [], 0, 1), (1, HS, [.64, .40], None, None), (1, MR, [.23], None, None),
    (1, BL, [.16], None, None), (1, AS, [.08], None, None), (1, AI, [0], None, None),
    (5, WT, [.55], 0, 1), (5, BL, [1.0, .19], None, None), (5, MR, [.44], None, None),
    (5, HS, [.26], None, None), (5, AS, [.12], None, None),
    (10, HS, [1.0, .86, .50], 0, 1), (10, BL, [.14], None, None),
    (15, WT, [.99, .50], 0, 1), (15, HS, [.86], None, None), (15, MR, [.38], None, None),
    (20, WT, [.99, .40], 0, 1), (20, MR, [.31], None, None),
    (25, WT, [.92, .38], 0, 1), (25, HS, [1.0], None, None),
    (30, WT, [.68, .08], 0, 1), (30, BL, [.94, .86], None, None),
    (35, WT, [.20], 0, 1), (35, MR, [.99], None, None), (35, HS, [.45], None, None),
    (35, AS, [.10], None, None),
    (40, WT, [.75, .28], 0, 1), (40, HS, [.86], None, None), (40, BL, [.22], None, None),
    (40, AS, [.10], None, None),
    (45, WT, [.82, .77, .69, .57], 0, 1), (45, BL, [.23], None, None), (45, HS, [.32, .15], None, None),
    (50, WT, [.93, .85, .81], 0, 1), (50, MR, [.15], 0, .3), (50, HS, [.01], None, None),
    (55, WT, [.93, .91, .86], .6, 1), (55, BL, [.08], 0, .2),
    (60, WT, [.93, .87, .80, .67], 0, 1), (60, BL, [.15, .09], None, None),
    (65, WT, [.92, .87], .7, .98), (65, BL, [.07], 0, .2),
    (70, WT, [.97, .91], .7, 1), (70, BL, [.07], 0, .22),
    (75, WT, [.88, .81, .71], 0, 1), (75, BL, [.26, .16, .10], None, None),
    (80, WT, [.91, .87, .85], 0, 1), (80, HS, [.08], None, None),
    (85, WT, [.99, .87, .80], .5, 1), (85, AS, [.10], 0, .33),
]

# ages with a zero-valued observation for multiple races
ALL_ZERO = [1, 5, 10, 15, 20, 25, 30, 35, 40, 45, 50, 55, 60, 65, 70, 75, 80, 85]
inp_f_zero = [40, 45, 50, 55, 60, 65, 70, 75, 80, 85]
inp_m_zero = [40, 55, 65, 75, 85]
nf_f_zero = [45, 60, 70, 75, 80]
nf_m_zero = [40, 60, 65, 70, 80, 85]

PANELS = [
    [(amb_f, amb_f_obs, ALL_ZERO), (amb_m, amb_m_obs, ALL_ZERO)],
    [(ed_f, ed_f_obs, ALL_ZERO), (ed_m, ed_m_obs, ALL_ZERO)],
    [(inp_f, inp_f_obs, inp_f_zero), (inp_m, inp_m_obs, inp_m_zero)],
    [(nf_f, nf_f_obs, nf_f_zero), (nf_m, nf_m_obs, nf_m_zero)],
    [(pp_f, pp_f_obs, ALL_ZERO), (pp_m, pp_m_obs, ALL_ZERO)],
]

fig = plt.figure(figsize=(W / 100, H / 100), dpi=100)


def rect(x0, top, x1, bottom):
    return [x0 / W, 1 - bottom / H, (x1 - x0) / W, (bottom - top) / H]


def strip(x0, x1, top, bottom, label):
    sa = fig.add_axes(rect(x0, top, x1, bottom))
    sa.set_facecolor('#D9D9D9')
    sa.set_xticks([])
    sa.set_yticks([])
    for sp in sa.spines.values():
        sp.set_color('#333333')
        sp.set_linewidth(0.9)
    sa.text(0.5, 0.5, label, ha='center', va='center', fontsize=12.5,
            color='#1A1A1A', linespacing=1.3, transform=sa.transAxes)


def draw_panel(ax, model, obs, zeros):
    for g in range(6):
        m, lo, hi = model[g]
        ax.fill_between(AGES, lo, hi, color=COLORS[g], alpha=0.45, lw=0, zorder=2)
    for g in range(6):
        ax.plot(AGES, model[g][0], color=COLORS[g], lw=1.3, alpha=0.75, zorder=3)
    for g in range(6):
        for age, grp, vals, lo, hi in obs:
            if grp == g and lo is not None:
                ax.vlines(age, lo, hi, color=COLORS[g], lw=2.4, alpha=0.9, zorder=4)
    for g in range(6):
        for age, grp, vals, lo, hi in obs:
            if grp == g and vals:
                ax.plot([age] * len(vals), vals, 'o', ms=7.5, color=COLORS[g],
                        mec='none', alpha=0.95, zorder=5)
    ax.plot(zeros, [0] * len(zeros), 'o', ms=7.5, color=COLORS[MR], mec='none', zorder=6)


COL_X = [(88, 468), (481, 862)]
for r in range(5):
    top = 42 + 274 * r
    for c in range(2):
        x0, x1 = COL_X[c]
        strip(x0, x1, top, top + 55, CARE[r])
        strip(x0, x1, top + 55, top + 108, SEX[c])
        ax = fig.add_axes(rect(x0, top + 108, x1, top + 261))
        ax.set_xlim(-3.2, 89.2)
        ax.set_ylim(-0.05, 1.05)
        ax.set_xticks([0, 20, 40, 60, 80])
        ax.set_xticks([10, 30, 50, 70], minor=True)
        ax.set_yticks([0, .25, .5, .75, 1])
        ax.set_yticks([.125, .375, .625, .875], minor=True)
        ax.set_yticklabels(['0.00', '0.25', '0.50', '0.75', '1.00'])
        ax.grid(which='major', color='#EBEBEB', lw=1.1)
        ax.grid(which='minor', color='#EBEBEB', lw=0.55)
        ax.set_axisbelow(True)
        for sp in ax.spines.values():
            sp.set_color('#333333')
            sp.set_linewidth(0.9)
            sp.set_zorder(10)
        ax.tick_params(which='minor', length=0)
        ax.tick_params(which='major', length=4, width=0.9, color='#333333',
                       labelsize=12, labelcolor='#4D4D4D', pad=2)
        if c == 1:
            ax.tick_params(axis='y', length=0, labelleft=False)
        if r < 4:
            ax.tick_params(axis='x', length=0, labelbottom=False)
        model, obs, zeros = PANELS[r][c]
        draw_panel(ax, model, obs, zeros)

# titles and legend drawn in pixel coordinates
ov = fig.add_axes([0, 0, 1, 1], zorder=-1)
ov.set_xlim(0, W)
ov.set_ylim(H, 0)
ov.axis('off')
ov.text(87, 18, "Chronic obstructive pulmonary disease", fontsize=16, color='#1A1A1A',
        ha='left', va='center')
ov.text(475, 1440, "Age", fontsize=16, color='#1A1A1A', ha='center', va='center')
ov.text(22, 775, "Modeled proportion of spending", fontsize=16, color='#1A1A1A',
        ha='center', va='center', rotation=90)

KEYS = [(-31, 1487, 13, 1504), (-31, 1523, 13, 1540), (478, 1487, 521, 1504),
        (478, 1523, 521, 1540), (706, 1487, 752, 1504), (706, 1523, 752, 1540)]
for g, (kx, ky, tx, ty) in enumerate(KEYS):
    ov.add_patch(Rectangle((kx, ky), 33, 34, facecolor=COLORS[g], alpha=0.45, lw=0))
    cx, cy = kx + 16.5, ky + 17
    ov.add_line(Line2D([kx, kx + 33], [cy, cy], color=COLORS[g], lw=1.3, alpha=0.75))
    ov.add_line(Line2D([cx, cx], [ky, ky + 34], color=COLORS[g], lw=2.4, alpha=0.9))
    ov.plot([cx], [cy], 'o', ms=6, color=COLORS[g], mec='none')
    ov.text(tx, ty, GROUPS[g], fontsize=13, color='#1A1A1A', ha='left', va='center')

fig.savefig('out.png', dpi=100)
